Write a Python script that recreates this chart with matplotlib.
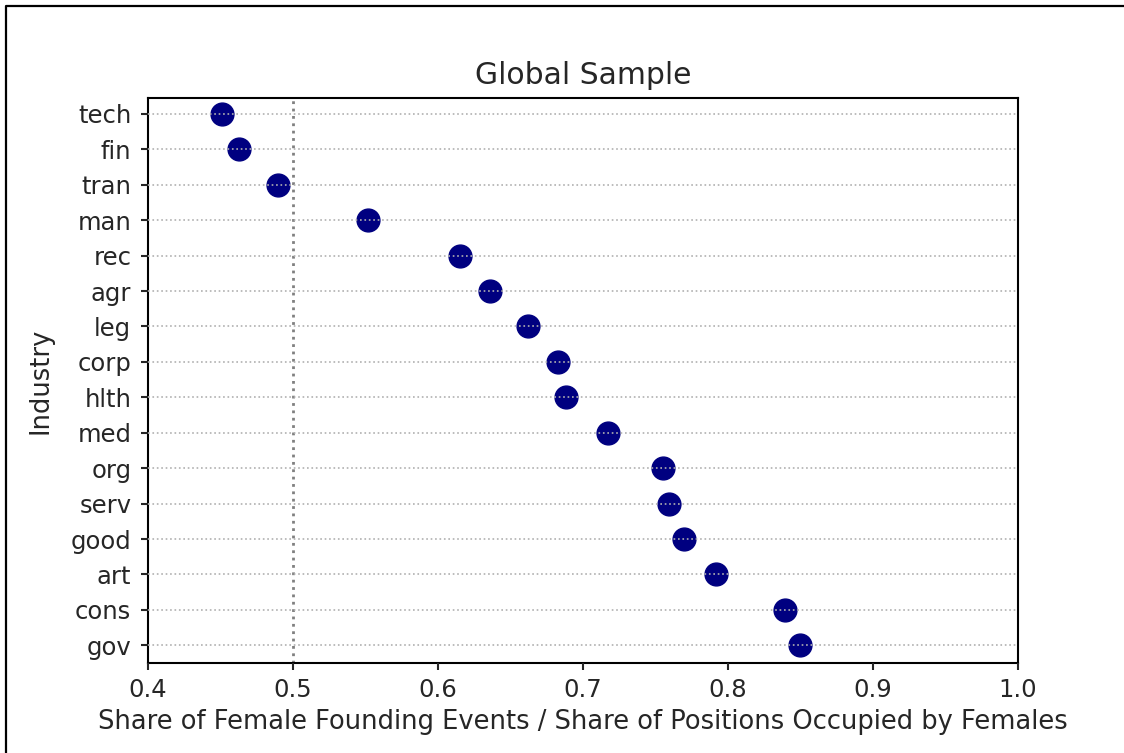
import matplotlib
matplotlib.use("Agg")
from matplotlib import pyplot as plt
from matplotlib.lines import Line2D

industries = ['tech', 'fin', 'tran', 'man', 'rec', 'agr', 'leg', 'corp',
              'hlth', 'med', 'org', 'serv', 'good', 'art', 'cons', 'gov']
ratios = [0.451, 0.463, 0.490, 0.552, 0.615, 0.636, 0.662, 0.683,
          0.688, 0.717, 0.755, 0.759, 0.770, 0.792, 0.839, 0.850]
xticks = [0.4, 0.5, 0.6, 0.7, 0.8, 0.9, 1.0]

fig = plt.figure(figsize=(11.24, 7.53), dpi=100)
ax = fig.add_axes([148/1124, 1-663/753, 870/1124, 565/753])

ax.scatter(ratios, industries, s=270, color='navy', zorder=1)
ax.axvline(0.5, color='gray', linestyle=':', linewidth=2, zorder=2)
ax.set_axisbelow(False)
ax.grid(axis='y', linestyle=':', color='#b0b0b0', linewidth=1.2)

ax.set_xlim(0.4, 1.0)
ax.set_ylim(len(industries) - 0.5, -0.45)
ax.set_xticks(xticks)
ax.set_xticklabels([str(t) for t in xticks])
ax.tick_params(labelsize=17.5, width=1.5, length=5, colors='#262626')
ax.tick_params(axis='x', pad=6)
ax.tick_params(axis='y', pad=7)
for sp in ax.spines.values():
    sp.set_linewidth(1.5)

ax.set_title('Global Sample', fontsize=21.5, pad=10, color='#262626')
ax.set_xlabel('Share of Female Founding Events / Share of Positions Occupied by Females',
              fontsize=18.5, color='#262626', labelpad=5)
ax.set_ylabel('Industry', fontsize=18.5, color='#262626', labelpad=12)

# frame around the image
fig.add_artist(Line2D([5.5/1124, 5.5/1124, 1.0], [0.0, 1-6/753, 1-6/753],
                      transform=fig.transFigure, color='black', linewidth=1.6))

fig.savefig('out.png', dpi=100)
